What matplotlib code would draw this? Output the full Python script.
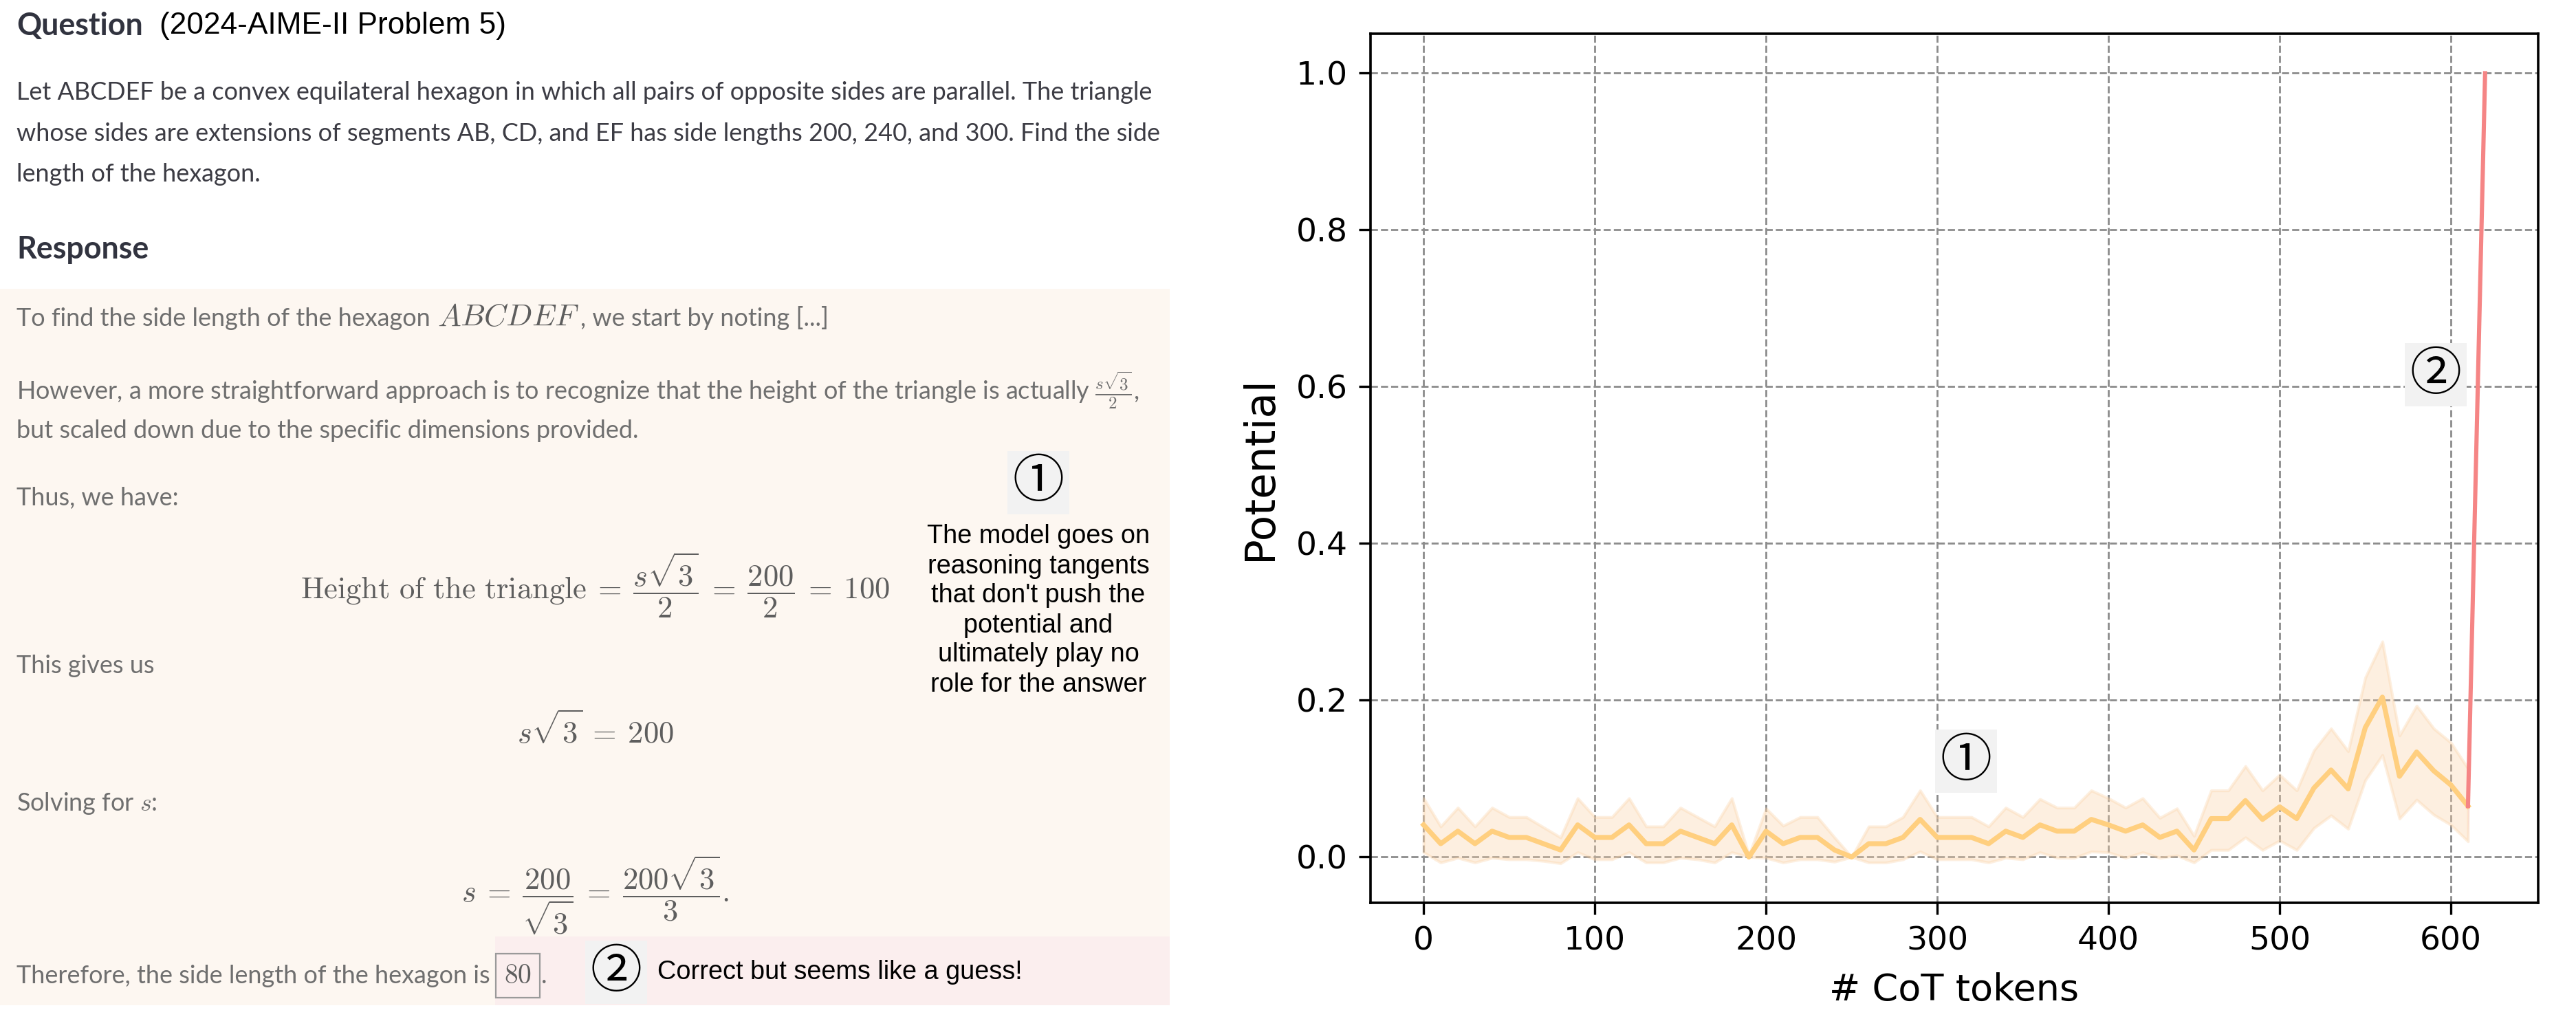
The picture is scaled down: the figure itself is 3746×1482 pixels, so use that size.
#!/usr/bin/env python3
"""Question/response panel next to the potential-vs-CoT-tokens curve."""

import matplotlib

matplotlib.use("Agg")
import matplotlib.pyplot as plt
from matplotlib.patches import Rectangle

W, H = 3746, 1482
DPI = 200

plt.rcParams.update({"mathtext.fontset": "cm"})

# ---- chart data ----
tokens = [0, 10, 20, 30, 40, 50, 60, 70, 80, 90,
          100, 110, 120, 130, 140, 150, 160, 170, 180, 190,
          200, 210, 220, 230, 240, 250, 260, 270, 280, 290,
          300, 310, 320, 330, 340, 350, 360, 370, 380, 390,
          400, 410, 420, 430, 440, 450, 460, 470, 480, 490,
          500, 510, 520, 530, 540, 550, 560, 570, 580, 590,
          600, 610]
potential = [0.041, 0.017, 0.033, 0.017, 0.033, 0.025, 0.025, 0.017, 0.009, 0.041,
             0.025, 0.025, 0.041, 0.017, 0.017, 0.033, 0.025, 0.017, 0.041, 0.000,
             0.033, 0.017, 0.025, 0.025, 0.009, 0.000, 0.017, 0.017, 0.025, 0.048,
             0.025, 0.025, 0.025, 0.017, 0.033, 0.025, 0.041, 0.033, 0.033, 0.048,
             0.041, 0.033, 0.041, 0.025, 0.033, 0.009, 0.049, 0.049, 0.072, 0.048,
             0.064, 0.049, 0.088, 0.111, 0.087, 0.165, 0.204, 0.103, 0.134, 0.110,
             0.092, 0.065]
potential_hi = [0.075, 0.039, 0.063, 0.039, 0.063, 0.051, 0.051, 0.038, 0.025, 0.075,
                0.051, 0.051, 0.075, 0.039, 0.039, 0.063, 0.051, 0.039, 0.075, 0.002,
                0.062, 0.040, 0.051, 0.051, 0.025, 0.000, 0.039, 0.039, 0.051, 0.085,
                0.051, 0.051, 0.051, 0.039, 0.063, 0.051, 0.074, 0.063, 0.063, 0.085,
                0.075, 0.063, 0.075, 0.050, 0.062, 0.027, 0.085, 0.085, 0.116, 0.085,
                0.105, 0.085, 0.136, 0.164, 0.135, 0.229, 0.275, 0.155, 0.193, 0.164,
                0.146, 0.113]
potential_lo = [0.006, -0.007, -0.001, -0.007, -0.001, -0.003, -0.003, -0.005, -0.008, 0.006,
                -0.003, -0.003, 0.006, -0.007, -0.007, -0.001, -0.003, -0.007, 0.006, 0.000,
                -0.001, -0.007, -0.003, -0.003, -0.006, 0.000, -0.007, -0.007, -0.003, 0.007,
                -0.003, -0.003, -0.003, -0.007, -0.001, -0.003, 0.006, -0.001, -0.001, 0.007,
                0.006, -0.001, 0.006, -0.001, 0.002, -0.007, 0.009, 0.009, 0.025, 0.009,
                0.021, 0.009, 0.037, 0.053, 0.036, 0.098, 0.130, 0.049, 0.073, 0.054,
                0.041, 0.020]

answer_tokens = [610, 620]
answer_potential = [0.065, 1.0]
answer_lo = [0.020, 1.0]
answer_hi = [0.113, 1.0]

# ---- text content ----
question_lines = [
    "Let ABCDEF be a convex equilateral hexagon in which all pairs of opposite sides are parallel. The triangle",
    "whose sides are extensions of segments AB, CD, and EF has side lengths 200, 240, and 300. Find the side",
    "length of the hexagon.",
]
response_lines = [
    r"However, a more straightforward approach is to recognize that the height of the triangle is actually $\frac{s\sqrt{3}}{2}$,",
    "but scaled down due to the specific dimensions provided.",
    "Thus, we have:",
    "This gives us",
    r"Solving for $s$:",
]
equations = [
    r"$\mathrm{Height\ of\ the\ triangle}\:=\:\dfrac{s\sqrt{3}}{2}\:=\:\dfrac{200}{2}\:=\:100$",
    r"$s\sqrt{3}\:=\:200$",
    r"$s\:=\:\dfrac{200}{\sqrt{3}}\:=\:\dfrac{200\sqrt{3}}{3}.$",
]
note_one = "The model goes on\nreasoning tangents\nthat don't push the\npotential and\nultimately play no\nrole for the answer"
note_two = "Correct but seems like a guess!"

BODY_FONT = ["Lato", "DejaVu Sans"]
HELV = ["Liberation Sans", "DejaVu Sans"]
CIRCLED = ["Noto Sans CJK JP", "DejaVu Sans"]
DARK = "#31333F"
GREY = "#6F6F6F"
MATH_GREY = "#5E5E5E"

fig = plt.figure(figsize=(W / DPI, H / DPI), dpi=DPI)
renderer = fig.canvas.get_renderer()


def fx(x):
    return x / W


def fy(y):
    return 1 - y / H


def fit_size(text, family, target_px, weight="normal"):
    t = fig.text(0, 0, text, fontsize=10, family=family, weight=weight)
    width = t.get_window_extent(renderer).width
    t.remove()
    return 10 * target_px / width


def chain(x_px, y_base, pieces):
    """Write text pieces one after the other on a common baseline."""
    for text, kwargs, gap in pieces:
        t = fig.text(fx(x_px + gap), fy(y_base), text, va="baseline", **kwargs)
        x_px = t.get_window_extent(renderer).x1
    return x_px


# background blocks for the response
fig.patches.append(Rectangle((fx(0), fy(1462)), fx(1701), 1042 / H, transform=fig.transFigure,
                             facecolor="#FDF7F1", edgecolor="none", zorder=0))
fig.patches.append(Rectangle((fx(720), fy(1462)), fx(981), 100 / H, transform=fig.transFigure,
                             facecolor="#FBEEEE", edgecolor="none", zorder=0))

head_size = fit_size("Question", BODY_FONT, 184, weight="bold")
body_size = fit_size(question_lines[0], BODY_FONT, 1656)
helv_small = fit_size("(2024-AIME-II Problem 5)", HELV, 504)
note_size = fit_size("reasoning tangents", HELV, 321)
eq_size = fit_size(equations[0], BODY_FONT, 860)
body = dict(fontsize=body_size, family=BODY_FONT, color=GREY)

fig.text(fx(24), fy(38), "Question", fontsize=head_size, family=BODY_FONT, weight="bold",
         color=DARK, va="center")
fig.text(fx(232), fy(38), "(2024-AIME-II Problem 5)", fontsize=helv_small, family=HELV,
         color="black", va="center")
for yy, line in zip([134, 194, 253], question_lines):
    fig.text(fx(24), fy(yy + 11), line, fontsize=body_size, family=BODY_FONT, color="#3C3C44",
             va="baseline")

fig.text(fx(24), fy(363), "Response", fontsize=head_size, family=BODY_FONT, weight="bold",
         color=DARK, va="center")

chain(24, 463 + 11, [
    ("To find the side length of the hexagon", body, 0),
    (r"$ABCDEF$", dict(fontsize=body_size * 1.25, color=MATH_GREY), 10),
    (", we start by noting [...]", body, 2),
])
for yy, line in zip([569, 626, 724, 968, 1168], response_lines):
    fig.text(fx(24), fy(yy + 11), line, va="baseline", **body)

for yy, eq in zip([851, 1063, 1302], equations):
    fig.text(fx(866), fy(yy), eq, fontsize=eq_size, color=MATH_GREY, ha="center", va="center")

chain(24, 1419 + 11, [
    ("Therefore, the side length of the hexagon is", body, 0),
    (r"$80$", dict(fontsize=body_size * 1.1, color=MATH_GREY,
                   bbox=dict(boxstyle="square,pad=0.3", facecolor="none", edgecolor="#9A9A9A", lw=0.8)), 20),
    (".", body, 14),
])

circ_box = dict(boxstyle="square,pad=0.1", facecolor="#F2F2F2", edgecolor="none")
fig.text(fx(1510), fy(702), "①", fontsize=27, family=CIRCLED, ha="center", va="center", bbox=circ_box)
fig.text(fx(1510), fy(888), note_one, fontsize=note_size, family=HELV, ha="center", va="center",
         linespacing=1.25, color="black")
fig.text(fx(896), fy(1414), "②", fontsize=27, family=CIRCLED, ha="center", va="center", bbox=circ_box)
fig.text(fx(956), fy(1414), note_two, fontsize=note_size, family=HELV, ha="left", va="center",
         color="black")

# ---- potential curve ----
ax = fig.add_axes([fx(1993), 1 - 1313 / H, (3691 - 1993) / W, (1313 - 49) / H])
ax.fill_between(tokens, potential_lo, potential_hi, color="#FBD3A8", alpha=0.35, lw=1.5, zorder=2)
ax.plot(tokens, potential, color="#FFCF7F", lw=2.6, zorder=3)
ax.fill_between(answer_tokens, answer_lo, answer_hi, color="#F7A0A8", alpha=0.35, lw=0, zorder=2)
ax.plot(answer_tokens, answer_potential, color="#F58585", lw=2.2, zorder=4)

ax.grid(True, ls="--", color="#8C8C8C", lw=1.0, zorder=0)
ax.set_axisbelow(True)
for spine in ax.spines.values():
    spine.set_linewidth(1.3)
    spine.set_color("black")
ax.tick_params(axis="both", length=6, width=1.2, pad=6, labelsize=17)
ax.set_xlabel("# CoT tokens", fontsize=19.5, labelpad=8)
ax.set_ylabel("Potential", fontsize=22, labelpad=8)

ax.text(317, 0.122, "①", fontsize=27, family=CIRCLED, ha="center", va="center", bbox=circ_box, zorder=5)
ax.text(591, 0.615, "②", fontsize=27, family=CIRCLED, ha="center", va="center", bbox=circ_box, zorder=5)

fig.savefig("out.png", dpi=DPI)
